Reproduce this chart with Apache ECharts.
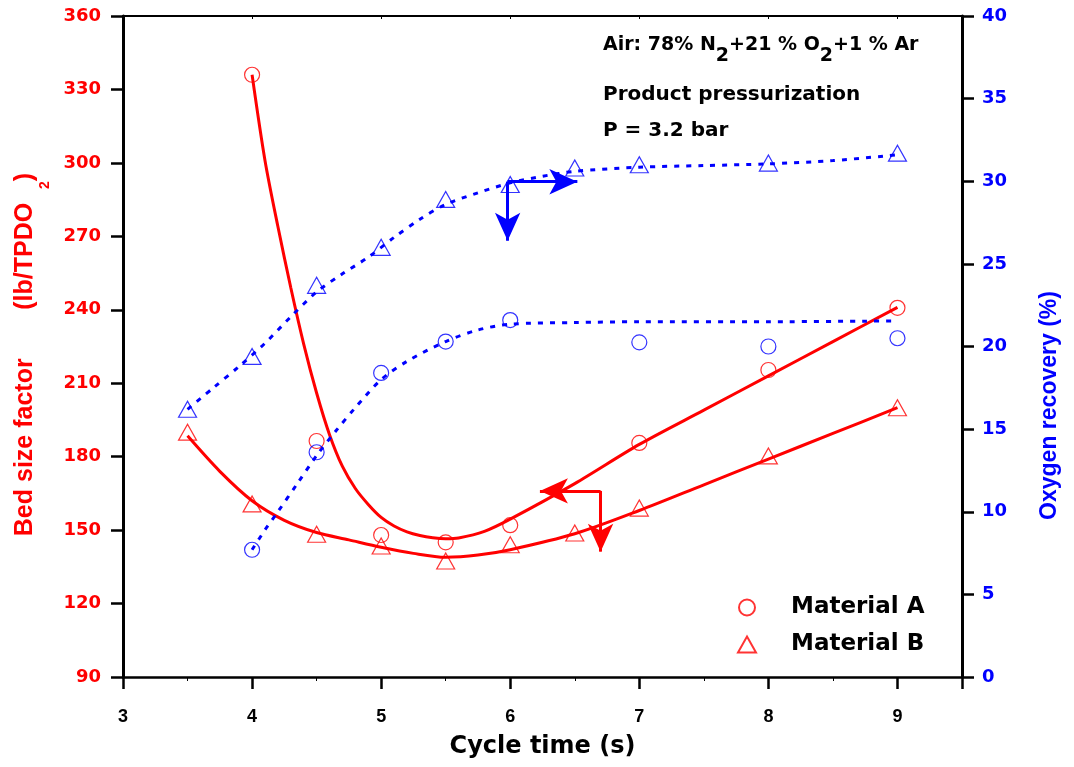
<!DOCTYPE html>
<html><head><meta charset="utf-8">
<script src="https://cdn.jsdelivr.net/npm/echarts@6/dist/echarts.min.js"></script>
<style>html,body{margin:0;padding:0;background:#fff}#c{width:1074px;height:767px}</style>
</head><body><div id="c"></div>
<script>
// ---- data ----
const xA = [4, 4.5, 5, 5.5, 6, 7, 8, 9];
const bedA = [336, 186.4, 148, 145, 152, 185.6, 215.4, 240.8];
const recA = [7.7, 13.6, 18.4, 20.3, 21.6, 20.25, 20.0, 20.5];

const xB = [3.5, 4, 4.5, 5, 5.5, 6, 6.5, 7, 8, 9];
const bedB = [190, 160.7, 148.3, 143.5, 137.4, 144, 148.8, 159, 180.3, 200];
const recB = [16.2, 19.4, 23.7, 26.0, 28.9, 29.8, 30.8, 31.0, 31.1, 31.7];

// fitted curves
const fitBedAx = [4, 4.1, 4.2, 4.3, 4.4, 4.5, 4.6, 4.7, 4.8, 4.9, 5.0, 5.1, 5.2, 5.3, 5.4, 5.5, 5.6, 5.8, 6.0, 6.5, 7, 7.5, 8, 8.5, 9];
const fitBedAy = [336, 301, 274, 249, 226, 206, 189, 176, 167, 160.5, 155.2, 151.7, 149.3, 147.8, 146.9, 146.5, 146.8, 149.5, 154.5, 169, 185, 199, 213, 227, 241];
const fitBedBx = [3.5, 3.75, 4, 4.25, 4.5, 4.75, 5, 5.25, 5.5, 5.75, 6, 6.5, 7, 7.5, 8, 8.5, 9];
const fitBedBy = [188.5, 174, 162, 154, 149, 146, 143, 140.5, 138.9, 139.8, 142.0, 148.5, 158, 168.5, 179, 189.5, 200];
const fitRecAx = [4, 4.1, 4.2, 4.35, 4.5, 4.65, 4.8, 5.0, 5.2, 5.5, 5.75, 6, 6.5, 7, 8, 9];
const fitRecAy = [7.7, 8.9, 10.0, 11.7, 13.4, 14.9, 16.3, 18.0, 19.1, 20.3, 21.0, 21.35, 21.45, 21.5, 21.5, 21.55];
const fitRecBx = [3.5, 3.7, 3.9, 4.1, 4.3, 4.5, 4.7, 4.9, 5.1, 5.3, 5.5, 5.75, 6, 6.25, 6.5, 7, 7.5, 8, 8.5, 9];
const fitRecBy = [16.2, 17.5, 18.8, 20.2, 21.8, 23.3, 24.4, 25.4, 26.6, 27.7, 28.6, 29.3, 29.9, 30.3, 30.6, 30.85, 30.95, 31.05, 31.25, 31.6];

// annotation arrows (data coords; end points are the arrow tips)
const redArrow = {corner: [6.70, 166], left: [6.23, 166], down: [6.70, 141.2]};
const blueArrow = {corner: [5.98, 29.97], right: [6.52, 29.97], down: [5.98, 26.4]};

const legendNames = ['Material A', 'Material B'];

// ---- chart ----
const RED = '#ff0000', BLUE = '#0000ff', BLACK = '#000000';
const zip = (xs, ys) => xs.map((x, i) => [x, ys[i]]);
const hollow = c => ({color: 'rgba(0,0,0,0)', borderColor: c, borderWidth: 1.2});
const WIDE = 'DejaVu Sans';
const ARIAL = 'Liberation Sans, Arial, sans-serif';

const chart = echarts.init(document.getElementById('c'), null, {renderer: 'canvas'});
chart.setOption({
  animation: false,
  backgroundColor: '#fff',
  grid: {left: 123, right: 112, top: 16, bottom: 90, containLabel: false, outerBoundsMode: 'none'},
  legend: {
    data: legendNames, orient: 'vertical', left: 737, top: 596, padding: 0,
    itemWidth: 18, itemHeight: 16, itemGap: 14,
    formatter: n => '{t|' + n + '}',
    textStyle: {rich: {t: {fontFamily: WIDE, fontWeight: 'bold', fontSize: 23, color: BLACK, padding: [0, 0, 0, 30]}}}
  },
  xAxis: [{
    type: 'value', min: 3, max: 9.5, interval: 1, position: 'bottom',
    name: 'Cycle time (s)', nameLocation: 'middle', nameGap: 58,
    nameTextStyle: {fontFamily: WIDE, fontWeight: 'bold', fontSize: 24, color: BLACK},
    axisLine: {show: true, onZero: false, lineStyle: {color: BLACK, width: 2.5}},
    axisTick: {show: true, length: 12, lineStyle: {color: BLACK, width: 2.5}},
    minorTick: {show: true, splitNumber: 2, length: 4, lineStyle: {color: BLACK, width: 1}},
    axisLabel: {margin: 31, fontFamily: ARIAL, fontWeight: 'bold', fontSize: 18, color: BLACK,
      formatter: v => (Number.isInteger(v) ? String(v) : '')},
    splitLine: {show: false}
  }, {
    type: 'value', min: 3, max: 9.5, interval: 1, position: 'top',
    axisLine: {show: true, onZero: false, lineStyle: {color: BLACK, width: 2}},
    axisTick: {show: true, inside: true, length: 3, lineStyle: {color: BLACK, width: 1}},
    axisLabel: {show: false}, splitLine: {show: false}
  }],
  yAxis: [{
    type: 'value', min: 90, max: 360, interval: 30, position: 'left',
    name: '{a|Bed size factor       (lb/TPDO  }{s|2}{a|)}', nameLocation: 'middle', nameGap: 67, nameRotate: 90,
    nameTextStyle: {color: RED, padding: [0, 16, 0, 0], rich: {
      a: {fontFamily: ARIAL, fontWeight: 'bold', fontSize: 25, color: RED, lineHeight: 24, verticalAlign: 'top'},
      s: {fontFamily: ARIAL, fontWeight: 'bold', fontSize: 14, color: RED, lineHeight: 40, verticalAlign: 'bottom'}
    }},
    axisLine: {show: true, onZero: false, lineStyle: {color: BLACK, width: 3}},
    axisTick: {show: true, length: 12, lineStyle: {color: BLACK, width: 2.5}},
    axisLabel: {margin: 22, fontFamily: WIDE, fontWeight: 'bold', fontSize: 18, color: RED},
    splitLine: {show: false}
  }, {
    type: 'value', min: 0, max: 40, interval: 5, position: 'right',
    name: 'Oxygen recovery (%)', nameLocation: 'middle', nameGap: 76, nameRotate: 90,
    nameTextStyle: {fontFamily: ARIAL, fontWeight: 'bold', fontSize: 23, color: BLUE, padding: [0, 118, 0, 0]},
    axisLine: {show: true, onZero: false, lineStyle: {color: BLACK, width: 3}},
    axisTick: {show: true, length: 12, lineStyle: {color: BLACK, width: 2.5}},
    axisLabel: {margin: 20, fontFamily: WIDE, fontWeight: 'bold', fontSize: 18, color: BLUE},
    splitLine: {show: false}
  }],
  series: [
    {name: 'Fit bed A', type: 'line', yAxisIndex: 0, smooth: 0.3, showSymbol: false, silent: true,
      lineStyle: {color: RED, width: 3}, data: zip(fitBedAx, fitBedAy), z: 2,
      markLine: {silent: true, symbol: ['none', 'arrow'], symbolSize: [19, 28], animation: false,
        label: {show: false}, lineStyle: {color: RED, width: 3, type: 'solid'},
        data: [[{coord: redArrow.corner}, {coord: redArrow.left}], [{coord: redArrow.corner}, {coord: redArrow.down}]]}},
    {name: 'Fit bed B', type: 'line', yAxisIndex: 0, smooth: 0.3, showSymbol: false, silent: true,
      lineStyle: {color: RED, width: 3}, data: zip(fitBedBx, fitBedBy), z: 2},
    {name: 'Fit rec A', type: 'line', yAxisIndex: 1, smooth: 0.3, showSymbol: false, silent: true,
      lineStyle: {color: BLUE, width: 3, type: [5, 7]}, data: zip(fitRecAx, fitRecAy), z: 2},
    {name: 'Fit rec B', type: 'line', yAxisIndex: 1, smooth: 0.3, showSymbol: false, silent: true,
      lineStyle: {color: BLUE, width: 3, type: [5, 7]}, data: zip(fitRecBx, fitRecBy), z: 2,
      markLine: {silent: true, symbol: ['none', 'arrow'], symbolSize: [19, 28], animation: false,
        label: {show: false}, lineStyle: {color: BLUE, width: 3, type: 'solid'},
        data: [[{coord: blueArrow.corner}, {coord: blueArrow.right}], [{coord: blueArrow.corner}, {coord: blueArrow.down}]]}},
    {name: 'Material A', type: 'scatter', yAxisIndex: 0, symbol: 'circle', symbolSize: 15,
      itemStyle: hollow(RED), data: zip(xA, bedA), z: 5},
    {name: 'Material B', type: 'scatter', yAxisIndex: 0, symbol: 'triangle', symbolSize: [18, 16],
      itemStyle: hollow(RED), data: zip(xB, bedB), z: 5},
    {name: 'Recovery A', type: 'scatter', yAxisIndex: 1, symbol: 'circle', symbolSize: 15,
      itemStyle: hollow(BLUE), data: zip(xA, recA), z: 5},
    {name: 'Recovery B', type: 'scatter', yAxisIndex: 1, symbol: 'triangle', symbolSize: [18, 16],
      itemStyle: hollow(BLUE), data: zip(xB, recB), z: 5}
  ],
  graphic: [
    {type: 'text', left: 603, top: 36, style: {
      text: '{n|Air: 78% N}{s|2}{n|+21 % O}{s|2}{n|+1 % Ar}',
      rich: {
        n: {fontFamily: WIDE, fontWeight: 'bold', fontSize: 19, fill: BLACK, lineHeight: 20, verticalAlign: 'top'},
        s: {fontFamily: WIDE, fontWeight: 'bold', fontSize: 19, fill: BLACK, lineHeight: 30, verticalAlign: 'bottom'}
      }}},
    {type: 'text', left: 603, top: 85, style: {text: 'Product pressurization', fontFamily: WIDE, fontWeight: 'bold', fontSize: 20, fill: BLACK}},
    {type: 'text', left: 603, top: 121, style: {text: 'P = 3.2 bar', fontFamily: WIDE, fontWeight: 'bold', fontSize: 20, fill: BLACK}}
  ]
});
</script>
</body></html>
